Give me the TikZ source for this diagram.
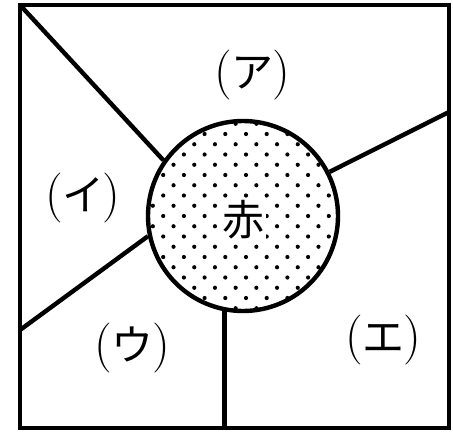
\documentclass[tikz,border=0pt]{standalone}
\usepackage{fontspec}
\newfontfamily\cjk{Noto Sans CJK JP}
\newcommand{\plab}[1]{{\fontsize{50}{50}\selectfont(}\kern-1pt{\cjk\fontsize{42}{42}\selectfont #1}\kern-1pt{\fontsize{50}{50}\selectfont)}}
\begin{document}
\begin{tikzpicture}[x=1pt,y=-1pt,
  heavy/.style={line width=4.4pt},
  lab/.style={inner sep=0pt},
  dot/.style={fill=black}]
\useasboundingbox (0,0) rectangle (453,432);
\coordinate (tl) at (20,5);
\coordinate (br) at (449,428);
\coordinate (rp) at (449,112);
\coordinate (lp) at (20,330);
\coordinate (bp) at (224,428);
% dots
\begin{scope}
  \clip (243,216) circle (94pt);
  \foreach \j in {-10,...,10}{
    \foreach \i in {-7,...,7}{
      \fill[dot] ({246+10.35*(2*\i+\j)},{216+10.25*\j}) circle (2.1pt);
    }
  }
\end{scope}
\node[circle, draw, heavy, minimum size=190pt, inner sep=0pt] (c) at (243,216) {};
\draw[heavy, line join=miter] (tl) rectangle (br);
\draw[heavy] (tl) -- (c.145);
\draw[heavy] (rp) -- (c.27);
\draw[heavy] (lp) -- (c.192);
\draw[heavy] (c.259) -- (c.259 |- bp);
\node[lab, fill=white, inner sep=2pt, font=\cjk\fontsize{42}{42}\selectfont] (aka) at (243,220) {赤};
\node[lab] (a) at (252,75) {\plab{ア}};
\node[lab] (b) at (83,198) {\plab{イ}};
\node[lab] (u) at (132,348) {\plab{ウ}};
\node[lab] (e) at (383,340) {\plab{エ}};
\end{tikzpicture}
\end{document}
